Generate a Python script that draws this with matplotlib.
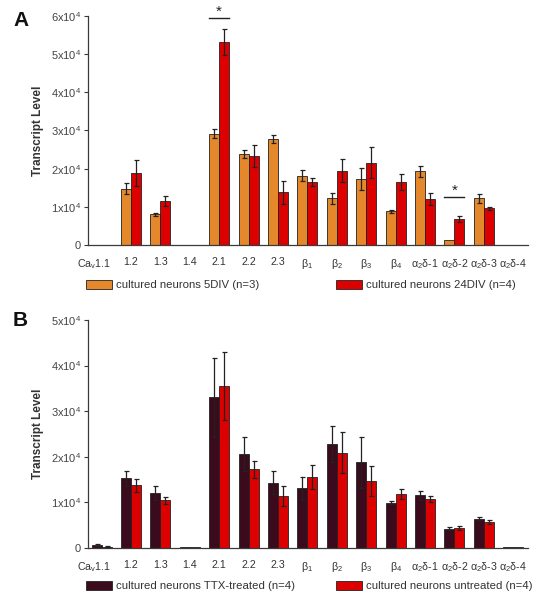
import numpy as np
import matplotlib
matplotlib.use("Agg")
import matplotlib.pyplot as plt
from matplotlib.transforms import ScaledTranslation

plt.rcParams['font.family'] = ['Liberation Sans', 'DejaVu Sans']
plt.rcParams['mathtext.fontset'] = 'custom'
plt.rcParams['mathtext.rm'] = 'Liberation Sans'
plt.rcParams['mathtext.it'] = 'Liberation Sans:italic'
plt.rcParams['mathtext.bf'] = 'Liberation Sans:bold'

# ---------------- data ----------------
categories = [r"Ca$_\mathrm{v}$1.1", "1.2", "1.3", "1.4", "2.1", "2.2", "2.3",
              r"β$_1$", r"β$_2$", r"β$_3$", r"β$_4$",
              r"α$_2$δ-1", r"α$_2$δ-2", r"α$_2$δ-3", r"α$_2$δ-4"]

# Panel A (units of 1e4)
a_5div = [0, 1.48, 0.80, 0, 2.92, 2.39, 2.77, 1.82, 1.22, 1.74, 0.88, 1.93, 0.13, 1.22, 0.01]
a_5div_err = [0, 0.15, 0.05, 0, 0.11, 0.11, 0.10, 0.14, 0.14, 0.29, 0.05, 0.15, 0.0, 0.12, 0]
a_24div = [0, 1.88, 1.16, 0, 5.32, 2.34, 1.38, 1.65, 1.95, 2.16, 1.65, 1.20, 0.67, 0.96, 0.01]
a_24div_err = [0, 0.34, 0.13, 0, 0.34, 0.29, 0.30, 0.11, 0.30, 0.41, 0.20, 0.16, 0.08, 0.04, 0]
a_sig_idx = [4, 12]
a_sig_y = [5.94, 1.27]

# Panel B (units of 1e4)
b_ttx = [0.06, 1.52, 1.20, 0.02, 3.30, 2.06, 1.43, 1.30, 2.28, 1.88, 0.99, 1.15, 0.42, 0.64, 0.01]
b_ttx_err = [0.02, 0.17, 0.15, 0, 0.87, 0.37, 0.26, 0.26, 0.40, 0.56, 0.04, 0.10, 0.03, 0.04, 0]
b_unt = [0.02, 1.37, 1.04, 0.01, 3.55, 1.72, 1.14, 1.55, 2.09, 1.47, 1.17, 1.07, 0.43, 0.56, 0.01]
b_unt_err = [0.01, 0.14, 0.08, 0, 0.74, 0.19, 0.22, 0.27, 0.46, 0.33, 0.11, 0.06, 0.04, 0.05, 0]

a_labels = ["cultured neurons 5DIV (n=3)", "cultured neurons 24DIV (n=4)"]
b_labels = ["cultured neurons TTX-treated (n=4)", "cultured neurons untreated (n=4)"]
a_yticks = [0, 1, 2, 3, 4, 5, 6]
b_yticks = [0, 1, 2, 3, 4, 5]

# ---------------- style ----------------
ORANGE = "#E5872B"
RED = "#DD0000"
MAROON = "#3B0A1C"
AXC = "#3a3a3a"
TXT = "#333333"

W, H = 541, 599
fig = plt.figure(figsize=(W / 100, H / 100), dpi=100)

x = np.arange(len(categories))
bw = 0.34


def ytick_label(v):
    return "0" if v == 0 else r"%dx10$^4$" % v


def panel(rect, s1, e1, s2, e2, c1, c2, ymax, yticks, labels, letter, letter_y, legend_y):
    ax = fig.add_axes(rect)
    s1 = np.array(s1) * 1e4; e1 = np.array(e1) * 1e4
    s2 = np.array(s2) * 1e4; e2 = np.array(e2) * 1e4
    b1 = ax.bar(x - bw / 2, s1, bw, color=c1, edgecolor="#222222", linewidth=0.6, zorder=2)
    b2 = ax.bar(x + bw / 2, s2, bw, color=c2, edgecolor="#222222", linewidth=0.6, zorder=2)
    for xs, s, e in ((x - bw / 2, s1, e1), (x + bw / 2, s2, e2)):
        m = e > 0
        ax.errorbar(xs[m], s[m], yerr=e[m], fmt="none", ecolor="#222222",
                    elinewidth=0.9, capsize=1.8, capthick=0.9, zorder=3)
    ax.set_xlim(-0.46, 14.5)
    ax.set_ylim(0, ymax * 1e4)
    ax.set_yticks([v * 1e4 for v in yticks])
    ax.set_yticklabels([ytick_label(v) for v in yticks], fontsize=8, color="#444444")
    ax.set_xticks(x)
    ax.set_xticklabels(categories, fontsize=7.7, color=TXT)
    ax.tick_params(axis="x", length=0, pad=9)
    ax.tick_params(axis="y", length=3, width=0.8, color=AXC, pad=2)
    for sp in ("top", "right"):
        ax.spines[sp].set_visible(False)
    for sp in ("left", "bottom"):
        ax.spines[sp].set_color(AXC)
        ax.spines[sp].set_linewidth(0.9)
    ax.set_ylabel("Transcript Level", fontsize=8.5, fontweight="bold", color=TXT, labelpad=5)
    lab0 = ax.get_xticklabels()[0]
    lab0.set_transform(lab0.get_transform() + ScaledTranslation(-8 / 100, 0, fig.dpi_scale_trans))
    # legends
    common = dict(frameon=False, fontsize=8.2, handlelength=2.25, handleheight=0.95,
                  handletextpad=0.35, borderaxespad=0, borderpad=0,
                  bbox_transform=fig.transFigure, loc="center left")
    l1 = ax.legend([b1], [labels[0]], bbox_to_anchor=(86 / W, 1 - legend_y / H), **common)
    for t in l1.get_texts():
        t.set_color(TXT)
    ax.add_artist(l1)
    l2 = ax.legend([b2], [labels[1]], bbox_to_anchor=(336 / W, 1 - legend_y / H), **common)
    for t in l2.get_texts():
        t.set_color(TXT)
    fig.text(13 / W, 1 - letter_y / H, letter, fontsize=15,
             fontweight="bold", ha="left", va="center", color="#111111")
    return ax


axA = panel([88 / W, 1 - 245 / H, 440 / W, 229 / H], a_5div, a_5div_err, a_24div, a_24div_err,
            ORANGE, RED, 6, a_yticks, a_labels, "A", 21, 285)
for i, yv in zip(a_sig_idx, a_sig_y):
    axA.plot([i - bw, i + bw], [yv * 1e4, yv * 1e4], color="#222222", lw=1.0, clip_on=False)
    axA.text(i, yv * 1e4 - 0.02e4, "*", ha="center", va="bottom", fontsize=11,
             color="#222222", clip_on=False)

axB = panel([88 / W, 1 - 547.7 / H, 440 / W, 227.7 / H], b_ttx, b_ttx_err, b_unt, b_unt_err,
            MAROON, RED, 5, b_yticks, b_labels, "B", 321, 586)

fig.savefig("out.png", dpi=100)
